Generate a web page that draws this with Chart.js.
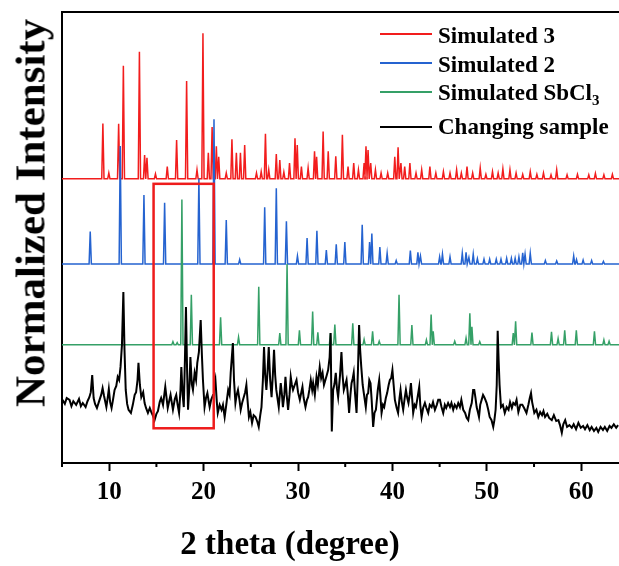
<!DOCTYPE html>
<html>
<head>
<meta charset="utf-8">
<script src="https://cdn.jsdelivr.net/npm/chart.js@4.4.0/dist/chart.umd.min.js"></script>
<style>
  body { margin: 0; background: #fff; }
  #wrap { position: relative; width: 619px; height: 566px; overflow: hidden; font-family: 'Liberation Serif', 'Times New Roman', serif; font-weight: bold; color: #000; }
  #xrd { position: absolute; left: 0; top: 0; }
  .ytitle { position: absolute; left: 30px; top: 213px; font-size: 43px; line-height: 1; white-space: nowrap; transform: translate(-50%, -50%) rotate(-90deg); }
  .xtitle { position: absolute; left: 290px; top: 527px; font-size: 33px; line-height: 1; white-space: nowrap; transform: translateX(-50%); }
  .key-line { position: absolute; left: 380px; width: 52px; height: 2px; }
  .key-text { position: absolute; left: 438px; font-size: 23px; line-height: 1; white-space: nowrap; }
  .key-text sub { font-size: 15px; vertical-align: -5px; line-height: 0; }
</style>
</head>
<body>
<div id="wrap">
  <canvas id="xrd" width="619" height="566"></canvas>
  <div id="legend"></div>
  <div class="ytitle">Normalized Intensity</div>
  <div class="xtitle">2 theta (degree)</div>
</div>
<script>
const seriesNames = ['Simulated 3', 'Simulated 2', 'Simulated SbCl<sub>3</sub>', 'Changing sample'];
const seriesColors = ['#f21d1d', '#2563d0', '#35a067', '#000000'];
const stackOffsets = [63.0, 44.1, 26.2, 0];
const xTickLabels = [10, 20, 30, 40, 50, 60];
const xMinorTicks = [5, 15, 25, 35, 45, 55];

// simulated patterns: peak position (2θ) and height above own baseline
const sim3Pos = [9.33, 9.96, 11.0, 11.5, 13.2, 13.75, 14.0, 14.9, 16.15, 17.14, 18.2, 19.3, 19.93, 20.5, 20.9, 21.35, 21.6, 22.4, 23.0, 23.47, 23.9, 24.35, 25.6, 26.1, 26.55, 26.9, 27.7, 28.07, 28.5, 29.1, 29.68, 29.92, 30.36, 31.07, 31.75, 31.97, 32.66, 33.2, 34.0, 34.7, 35.3, 35.9, 36.4, 37.0, 37.2, 37.42, 37.7, 38.2, 38.8, 39.5, 40.25, 40.6, 40.9, 41.3, 41.85, 42.5, 43.1, 43.97, 44.6, 45.4, 46.1, 46.8, 47.3, 47.9, 48.5, 49.3, 49.9, 50.6, 51.2, 51.7, 52.45, 53.1, 53.8, 54.6, 55.3, 56.0, 56.8, 57.4, 58.5, 59.6, 60.8, 61.5, 62.4, 63.3];
const sim3Int = [12.3, 1.3, 12.2, 25.1, 28.2, 5.3, 4.7, 1.1, 2.7, 8.6, 21.7, 2.0, 32.3, 5.8, 11.5, 7.2, 4.9, 1.3, 8.8, 5.8, 5.8, 7.5, 1.3, 1.6, 10.0, 2.0, 5.5, 4.2, 1.5, 3.5, 9.0, 7.5, 2.7, 2.4, 6.1, 4.9, 10.5, 6.1, 5.0, 9.8, 2.7, 3.5, 2.0, 3.5, 7.2, 6.4, 3.5, 2.0, 1.3, 1.3, 4.9, 7.0, 3.5, 2.7, 3.5, 1.3, 2.0, 2.7, 1.3, 1.6, 1.3, 2.0, 1.3, 2.7, 1.3, 2.4, 1.0, 1.6, 1.3, 2.2, 2.0, 1.3, 1.0, 1.6, 1.0, 1.3, 0.9, 2.0, 0.9, 1.0, 0.9, 1.2, 0.9, 1.0];

const sim2Pos = [7.99, 11.17, 13.68, 15.87, 19.5, 21.1, 22.4, 23.82, 26.47, 27.7, 28.77, 29.94, 30.96, 32.0, 33.0, 34.05, 34.96, 36.8, 37.58, 37.82, 38.67, 39.44, 40.4, 41.9, 42.7, 42.97, 45.0, 45.3, 46.1, 47.4, 47.8, 48.1, 48.56, 49.0, 49.7, 50.3, 51.0, 51.5, 52.1, 52.6, 53.0, 53.4, 53.8, 54.05, 54.6, 56.2, 57.4, 59.2, 59.5, 60.2, 61.1, 62.35];
const sim2Int = [7.2, 26.2, 15.3, 13.6, 19.0, 32.1, 9.8, 1.0, 12.6, 16.8, 9.5, 1.8, 5.8, 7.4, 3.1, 4.4, 4.9, 8.7, 4.9, 6.8, 3.8, 2.4, 0.8, 3.0, 2.6, 1.8, 1.6, 2.2, 1.6, 2.4, 2.6, 1.5, 2.2, 1.2, 1.1, 1.1, 1.1, 1.1, 1.3, 1.3, 1.3, 1.6, 2.5, 2.2, 2.4, 0.8, 0.7, 1.8, 1.0, 0.9, 0.8, 0.6];

const simSbPos = [16.75, 17.2, 17.7, 18.7, 21.8, 23.7, 25.84, 28.07, 28.84, 30.15, 31.55, 32.1, 33.44, 33.9, 35.8, 37.0, 37.9, 38.6, 40.7, 42.06, 43.6, 44.1, 44.32, 46.6, 47.8, 48.2, 48.42, 49.25, 52.8, 53.05, 54.78, 56.85, 57.55, 58.25, 59.48, 61.4, 62.4, 62.95];
const simSbInt = [0.7, 0.5, 32.2, 11.1, 6.1, 1.7, 12.9, 2.6, 17.9, 3.2, 7.4, 2.8, 2.6, 4.5, 4.8, 1.2, 3.0, 0.8, 11.1, 4.4, 1.1, 6.7, 3.0, 0.8, 1.5, 7.0, 4.0, 0.7, 2.6, 5.2, 2.7, 2.9, 1.4, 3.2, 3.2, 3.0, 1.1, 0.8];

// measured pattern of the changing sample
const sampleAngle = [5.05, 5.3, 5.5, 5.8, 6.0, 6.2, 6.5, 6.8, 7.0, 7.2, 7.5, 7.7, 7.9, 8.05, 8.2, 8.35, 8.5, 8.7, 8.9, 9.15, 9.3, 9.45, 9.7, 9.85, 9.96, 10.1, 10.25, 10.4, 10.57, 10.75, 10.9, 11.05, 11.2, 11.35, 11.5, 11.62, 11.75, 11.9, 12.05, 12.3, 12.5, 12.7, 12.85, 13.0, 13.1, 13.25, 13.4, 13.6, 13.75, 13.9, 14.1, 14.3, 14.46, 14.65, 14.8, 15.0, 15.16, 15.35, 15.5, 15.7, 15.94, 16.1, 16.2, 16.35, 16.5, 16.65, 16.75, 16.95, 17.1, 17.25, 17.4, 17.55, 17.64, 17.78, 17.9, 18.02, 18.13, 18.25, 18.35, 18.5, 18.6, 18.75, 18.87, 19.05, 19.2, 19.33, 19.5, 19.69, 19.82, 19.93, 20.1, 20.25, 20.4, 20.55, 20.64, 20.8, 21.0, 21.1, 21.25, 21.4, 21.5, 21.7, 21.9, 22.05, 22.23, 22.4, 22.6, 22.75, 22.87, 23.1, 23.22, 23.37, 23.5, 23.64, 23.8, 23.93, 24.1, 24.25, 24.4, 24.53, 24.65, 24.8, 24.95, 25.13, 25.3, 25.5, 25.7, 25.84, 26.0, 26.13, 26.28, 26.4, 26.52, 26.65, 26.78, 26.9, 27.05, 27.2, 27.35, 27.46, 27.58, 27.7, 27.85, 27.96, 28.17, 28.3, 28.4, 28.55, 28.67, 28.8, 28.95, 29.1, 29.23, 29.35, 29.47, 29.65, 29.84, 30.0, 30.19, 30.35, 30.47, 30.6, 30.79, 30.95, 31.07, 31.2, 31.35, 31.5, 31.6, 31.78, 31.96, 32.1, 32.3, 32.45, 32.6, 32.75, 32.9, 33.05, 33.19, 33.35, 33.45, 33.58, 33.72, 33.86, 34.0, 34.12, 34.25, 34.45, 34.6, 34.72, 34.85, 35.0, 35.14, 35.28, 35.41, 35.55, 35.67, 35.8, 35.9, 36.05, 36.2, 36.35, 36.47, 36.58, 36.7, 36.85, 36.97, 37.18, 37.3, 37.43, 37.55, 37.68, 37.8, 37.96, 38.1, 38.25, 38.45, 38.6, 38.72, 38.85, 39.0, 39.13, 39.3, 39.44, 39.6, 39.73, 39.87, 40.0, 40.13, 40.26, 40.45, 40.6, 40.75, 40.86, 41.0, 41.14, 41.3, 41.43, 41.57, 41.7, 41.83, 41.96, 42.1, 42.2, 42.35, 42.49, 42.65, 42.84, 42.95, 43.09, 43.25, 43.44, 43.6, 43.79, 43.95, 44.15, 44.3, 44.5, 44.7, 44.85, 45.03, 45.2, 45.38, 45.55, 45.7, 45.9, 46.1, 46.25, 46.44, 46.6, 46.8, 46.97, 47.15, 47.3, 47.5, 47.7, 47.86, 48.03, 48.2, 48.4, 48.55, 48.67, 48.8, 48.92, 49.05, 49.17, 49.3, 49.45, 49.6, 49.73, 49.85, 49.98, 50.15, 50.3, 50.5, 50.68, 50.8, 50.93, 51.05, 51.15, 51.25, 51.35, 51.5, 51.7, 51.9, 52.1, 52.3, 52.46, 52.65, 52.8, 52.99, 53.15, 53.34, 53.55, 53.76, 53.95, 54.2, 54.4, 54.55, 54.68, 54.8, 55.03, 55.25, 55.45, 55.65, 55.85, 56.0, 56.17, 56.4, 56.6, 56.88, 57.1, 57.35, 57.58, 57.75, 57.94, 58.1, 58.3, 58.5, 58.75, 59.0, 59.2, 59.45, 59.7, 59.95, 60.2, 60.4, 60.65, 60.9, 61.1, 61.35, 61.6, 61.8, 62.05, 62.3, 62.5, 62.75, 63.0, 63.2, 63.45, 63.7, 63.9];
const sampleInt = [14.0, 13.1, 14.4, 14.0, 12.6, 13.7, 12.9, 14.2, 12.6, 13.3, 12.4, 13.7, 14.6, 15.7, 19.5, 14.4, 13.1, 12.2, 13.5, 15.1, 16.6, 14.9, 12.4, 14.6, 16.4, 13.5, 12.2, 14.0, 16.2, 17.1, 19.1, 18.4, 21.3, 26.2, 37.9, 25.1, 16.2, 13.1, 11.8, 11.1, 12.9, 15.1, 15.7, 18.4, 22.2, 17.3, 14.6, 15.7, 13.3, 12.2, 11.1, 12.2, 11.3, 10.4, 9.5, 10.9, 11.5, 13.5, 14.4, 12.9, 16.9, 14.0, 12.2, 13.7, 15.1, 13.1, 11.8, 14.2, 15.1, 12.9, 11.1, 16.2, 21.3, 15.1, 12.4, 22.8, 34.6, 20.6, 11.8, 17.3, 23.5, 17.5, 16.2, 20.0, 18.4, 22.2, 24.6, 31.7, 23.9, 18.4, 12.4, 14.4, 15.5, 13.5, 12.4, 14.0, 15.1, 16.6, 18.4, 13.5, 11.1, 12.9, 11.8, 12.9, 10.2, 12.9, 16.2, 15.1, 20.0, 26.6, 18.4, 13.3, 15.1, 16.2, 14.0, 11.8, 13.5, 14.6, 15.7, 17.3, 14.0, 10.2, 11.3, 8.9, 10.6, 10.2, 9.1, 8.0, 10.6, 12.4, 18.4, 25.7, 19.5, 16.2, 20.6, 25.7, 18.4, 14.6, 20.2, 25.1, 19.5, 16.2, 14.0, 12.4, 17.7, 15.1, 12.4, 15.1, 19.1, 15.1, 11.8, 15.1, 19.1, 17.3, 16.2, 17.3, 18.4, 15.7, 14.0, 15.7, 16.9, 14.4, 12.4, 14.0, 14.6, 16.2, 18.4, 16.2, 17.7, 15.1, 19.1, 17.3, 21.3, 18.8, 20.0, 17.3, 18.4, 19.5, 20.6, 23.5, 28.8, 7.0, 16.2, 17.5, 20.0, 16.6, 14.6, 19.5, 24.6, 19.5, 16.2, 17.3, 18.4, 15.1, 11.1, 15.1, 17.7, 18.8, 20.0, 15.1, 11.1, 20.6, 30.6, 25.1, 21.3, 17.3, 15.5, 12.4, 15.1, 15.5, 18.4, 17.7, 14.0, 8.0, 11.1, 11.8, 16.2, 18.4, 15.1, 11.1, 12.9, 12.4, 14.4, 15.5, 17.3, 18.4, 18.8, 20.6, 17.3, 14.0, 12.2, 11.1, 14.4, 16.2, 13.5, 11.8, 14.4, 16.2, 14.4, 13.3, 15.1, 17.7, 14.0, 11.1, 12.9, 12.4, 14.4, 16.9, 12.9, 10.2, 12.2, 13.3, 12.2, 11.1, 12.9, 12.4, 13.5, 11.8, 12.9, 14.0, 14.0, 12.4, 11.1, 12.9, 12.2, 13.3, 12.4, 13.3, 11.8, 12.9, 12.2, 13.3, 12.4, 14.0, 11.8, 11.1, 10.0, 9.5, 11.8, 13.3, 16.2, 16.2, 14.4, 12.4, 11.3, 10.2, 12.9, 14.0, 15.1, 14.6, 14.0, 13.3, 11.8, 10.2, 9.5, 8.0, 9.5, 11.8, 17.3, 29.3, 22.8, 17.3, 12.4, 12.9, 11.1, 12.4, 11.8, 13.5, 12.2, 13.3, 12.9, 14.0, 11.3, 12.9, 12.9, 12.2, 11.1, 12.9, 14.4, 15.5, 13.5, 11.1, 11.8, 10.2, 11.3, 10.6, 11.5, 10.2, 10.9, 10.0, 9.5, 10.6, 9.3, 9.5, 8.4, 6.7, 8.6, 9.5, 8.0, 8.4, 7.8, 8.6, 7.5, 8.9, 7.8, 8.2, 7.5, 8.4, 7.3, 8.0, 7.1, 7.8, 6.9, 8.0, 7.3, 8.0, 7.1, 8.2, 7.8, 8.6, 7.8, 8.4];

// highlighted 2θ window drawn as a box, in axis units
const boxAngle = [14.7, 21.07];
const boxInt = [7.7, 61.9];

const FONT = "'Liberation Serif', 'Times New Roman', serif";
const PEAK_HALF_WIDTH = 0.12;

function peakLine(pos, ints, offset) {
    const pts = [{ x: 5, y: offset }];
    pos.forEach((p, i) => {
        pts.push(
            { x: p - PEAK_HALF_WIDTH, y: offset },
            { x: p, y: offset + ints[i] },
            { x: p + PEAK_HALF_WIDTH, y: offset }
        );
    });
    pts.push({ x: 64, y: offset });
    return pts;
}

const sampleLine = sampleAngle.map((a, i) => ({ x: a, y: stackOffsets[3] + sampleInt[i] }));

const datasets = [
    peakLine(sim3Pos, sim3Int, stackOffsets[0]),
    peakLine(sim2Pos, sim2Int, stackOffsets[1]),
    peakLine(simSbPos, simSbInt, stackOffsets[2]),
    sampleLine
].map((pts, i) => ({
    label: seriesNames[i],
    data: pts,
    borderColor: seriesColors[i],
    borderWidth: i === 3 ? 2 : 1.5,
    pointRadius: 0,
    tension: 0,
    fill: false,
    order: 4 - i // measured curve sits on top
}));

// top frame line, minor ticks and the highlight box
const framePlugin = {
    id: 'frame',
    afterDatasetsDraw(chart) {
        const { ctx, chartArea, scales: { x, y } } = chart;
        ctx.save();
        const l = x.getPixelForValue(boxAngle[0]);
        const r = x.getPixelForValue(boxAngle[1]);
        const t = y.getPixelForValue(boxInt[1]);
        const b = y.getPixelForValue(boxInt[0]);
        ctx.strokeStyle = '#ee1c1c';
        ctx.lineWidth = 2.5;
        ctx.strokeRect(l, t, r - l, b - t);

        ctx.strokeStyle = '#000';
        ctx.lineWidth = 2;
        ctx.beginPath();
        ctx.moveTo(chartArea.left - 1, chartArea.top);
        ctx.lineTo(chartArea.right, chartArea.top);
        xMinorTicks.forEach(v => {
            const px = x.getPixelForValue(v);
            ctx.moveTo(px, chartArea.bottom);
            ctx.lineTo(px, chartArea.bottom + 4);
        });
        ctx.stroke();
        ctx.restore();
    }
};

new Chart(document.getElementById('xrd'), {
    type: 'line',
    data: { datasets: datasets },
    options: {
        responsive: false,
        animation: false,
        layout: { padding: { top: 12, left: 0, right: 0, bottom: 0 } },
        plugins: {
            legend: { display: false },
            tooltip: { enabled: false }
        },
        scales: {
            x: {
                type: 'linear',
                min: 5,
                max: 64,
                afterBuildTicks: s => { s.ticks = xTickLabels.map(v => ({ value: v })); },
                afterFit: s => { s.height = 103; },
                ticks: {
                    autoSkip: false,
                    maxRotation: 0,
                    padding: 7,
                    color: '#000',
                    font: { family: FONT, size: 25, weight: 'bold' }
                },
                grid: {
                    drawOnChartArea: false,
                    drawTicks: true,
                    tickLength: 8,
                    tickWidth: 2,
                    tickColor: '#000'
                },
                border: { display: true, color: '#000', width: 2 }
            },
            y: {
                min: 0,
                max: 100,
                afterFit: s => { s.width = 62; },
                ticks: { display: false },
                grid: { display: false },
                border: { display: true, color: '#000', width: 2 }
            }
        }
    },
    plugins: [framePlugin]
});

// legend rows, beside the curves at top right
const lineY = [34, 63, 92, 127];
const textTop = [24, 53, 81, 115];
const legend = document.getElementById('legend');
seriesNames.forEach((name, i) => {
    const ln = document.createElement('div');
    ln.className = 'key-line';
    ln.style.top = (lineY[i] - 1) + 'px';
    ln.style.background = seriesColors[i];
    legend.appendChild(ln);
    const tx = document.createElement('div');
    tx.className = 'key-text';
    tx.style.top = textTop[i] + 'px';
    tx.innerHTML = name;
    legend.appendChild(tx);
});
</script>
</body>
</html>
